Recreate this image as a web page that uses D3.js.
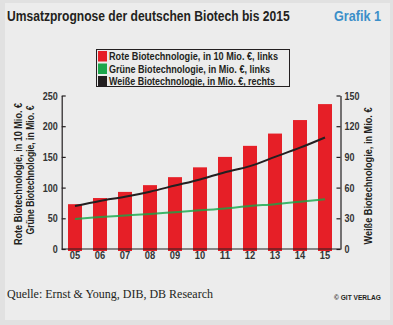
<!DOCTYPE html>
<html>
<head>
<meta charset="utf-8">
<script src="https://cdn.jsdelivr.net/npm/d3@7"></script>
<style>
  html, body { margin: 0; padding: 0; background: #e1e1e1; }
  svg { display: block; }
  .cond { font-family: "Liberation Sans", Arial, sans-serif; font-weight: bold; }
</style>
</head>
<body>
<svg id="chart" width="393" height="325"></svg>
<script>
// Forecast data 2005–2015
const years = ["05", "06", "07", "08", "09", "10", "11", "12", "13", "14", "15"];
const rote = [73, 83, 93, 104, 117, 133, 150, 168, 188, 210, 236];     // in 10 Mio. €, left axis
const gruene = [49, 52, 54.5, 57, 60, 63, 66, 70, 73, 77, 81];         // in Mio. €, left axis
const weisse = [42, 47, 51, 56, 62, 68, 75, 81, 90, 99, 109];          // in Mio. €, right axis
const leftTicks = [0, 50, 100, 150, 200, 250];
const rightTicks = [0, 30, 60, 90, 120, 150];
const legendItems = [
  { label: "Rote Biotechnologie, in  10 Mio. €, links", color: "#e61f27", w: 169 },
  { label: "Grüne Biotechnologie, in Mio. €, links", color: "#1ca64b", w: 161 },
  { label: "Weiße Biotechnologie, in Mio. €, rechts", color: "#231f20", w: 166 }
];

const svg = d3.select("#chart");

// squeeze a text to a given width (condensed look)
const fit = (sel, w) => sel.attr("textLength", w).attr("lengthAdjust", "spacingAndGlyphs");
// condense a text horizontally by scaling it to a given width
const squeeze = (sel, x0, y0, w, anchorEnd) => {
  const natural = sel.node().getComputedTextLength();
  const k = w / natural;
  sel.attr("x", 0).attr("y", 0)
    .attr("transform", `translate(${x0},${y0}) scale(${k},1)`);
};

// panel background
svg.append("rect").attr("x", 5).attr("y", 3).attr("width", 385).attr("height", 317).attr("fill", "#ececec");

// title
svg.append("text").attr("class", "cond")
  .attr("font-size", 15).attr("fill", "#231f20")
  .text("Umsatzprognose der deutschen Biotech bis 2015").call(squeeze, 7, 21, 283);
svg.append("text").attr("class", "cond")
  .attr("font-size", 15).attr("fill", "#3b8fc9")
  .text("Grafik 1").call(squeeze, 334, 21, 47);

// scales
const x = d3.scaleBand().domain(years).range([62.5, 337.5]).paddingInner(0.44).paddingOuter(0.22);
const yL = d3.scaleLinear().domain([0, 250]).range([249, 95.5]);
const yR = d3.scaleLinear().domain([0, 150]).range([249, 95.5]);
const xc = d => x(d) + x.bandwidth() / 2;

// bars
svg.append("g").selectAll("rect").data(years).join("rect")
  .attr("x", d => x(d)).attr("width", x.bandwidth())
  .attr("y", (d, i) => yL(rote[i]))
  .attr("height", (d, i) => yL(0) - yL(rote[i]) + 2)
  .attr("fill", "#e61f27");

// axes
const tickStyle = g => {
  g.attr("font-family", null).attr("font-size", null);
  g.selectAll("text").attr("class", "cond").attr("font-size", 10).attr("fill", "#333")
    .each(function () { const t = d3.select(this); t.call(fit, t.text().length * 5); });
  g.selectAll("line, path").attr("stroke", "#231f20").attr("stroke-width", 1.2);
};
svg.append("g").attr("transform", "translate(61.7,0)")
  .call(d3.axisLeft(yL).tickValues(leftTicks).tickSizeInner(-4).tickSizeOuter(0).tickPadding(3))
  .call(tickStyle)
  .call(g => g.selectAll("text").attr("dx", -1).attr("dy", "0.35em"));
svg.append("g").attr("transform", "translate(340.5,0)")
  .call(d3.axisRight(yR).tickValues(rightTicks).tickSizeInner(-4).tickSizeOuter(0).tickPadding(3))
  .call(tickStyle)
  .call(g => g.selectAll("text").attr("dx", 1).attr("dy", "0.35em"));
svg.append("g").attr("transform", "translate(0,249)")
  .call(d3.axisBottom(x).tickSize(0).tickPadding(3))
  .call(tickStyle)
  .call(g => g.selectAll("text").attr("font-size", 10.5).call(fit, 10.4))
  .call(g => g.select(".domain").attr("d", "M61.7,0H340.5"));

// lines
const lineL = d3.line().x((d, i) => xc(years[i])).y(d => yL(d)).curve(d3.curveMonotoneX);
const lineR = d3.line().x((d, i) => xc(years[i])).y(d => yR(d)).curve(d3.curveMonotoneX);
svg.append("path").datum(gruene).attr("d", lineL)
  .attr("fill", "none").attr("stroke", "#12aa48").attr("stroke-width", 2).attr("stroke-opacity", 0.8);
svg.append("path").datum(weisse).attr("d", lineR)
  .attr("fill", "none").attr("stroke", "#231f20").attr("stroke-width", 2);

// axis titles
const axisTitle = (tx, ty, w, label) =>
  svg.append("text").attr("class", "cond").attr("font-size", 10.5).attr("fill", "#231f20")
    .attr("transform", `translate(${tx},${ty}) rotate(-90)`).attr("text-anchor", "middle")
    .text(label).call(fit, w);
axisTitle(22, 174, 142, "Rote Biotechnologie, in  10 Mio. €");
axisTitle(34, 170, 129, "Grüne Biotechnologie, in Mio. €");
axisTitle(372, 176, 137, "Weiße Biotechnologie, in Mio. €");

// legend
const lg = svg.append("g");
lg.append("rect").attr("x", 96.5).attr("y", 49.5).attr("width", 193).attr("height", 37)
  .attr("fill", "none").attr("stroke", "#231f20").attr("stroke-width", 1);
legendItems.forEach((it, i) => {
  lg.append("rect").attr("x", 98).attr("y", 51 + i * 12.5).attr("width", 9).attr("height", 10.5).attr("fill", it.color);
  lg.append("text").attr("class", "cond").attr("x", 109).attr("y", 60.3 + i * 12.5)
    .attr("font-size", 11.5).attr("fill", "#231f20").text(it.label).call(fit, it.w);
});

// footer
svg.append("text").attr("x", 7).attr("y", 298)
  .attr("font-family", "'Liberation Serif', 'DejaVu Serif', serif").attr("font-size", 12).attr("fill", "#231f20")
  .text("Quelle: Ernst & Young, DIB, DB Research").call(fit, 206);
svg.append("text").attr("x", 381).attr("y", 300).attr("text-anchor", "end")
  .attr("font-family", "'Liberation Sans', Arial, sans-serif").attr("font-weight", "bold")
  .attr("font-size", 7.5).attr("fill", "#231f20")
  .text("© GIT VERLAG").call(fit, 47);
</script>
</body>
</html>
